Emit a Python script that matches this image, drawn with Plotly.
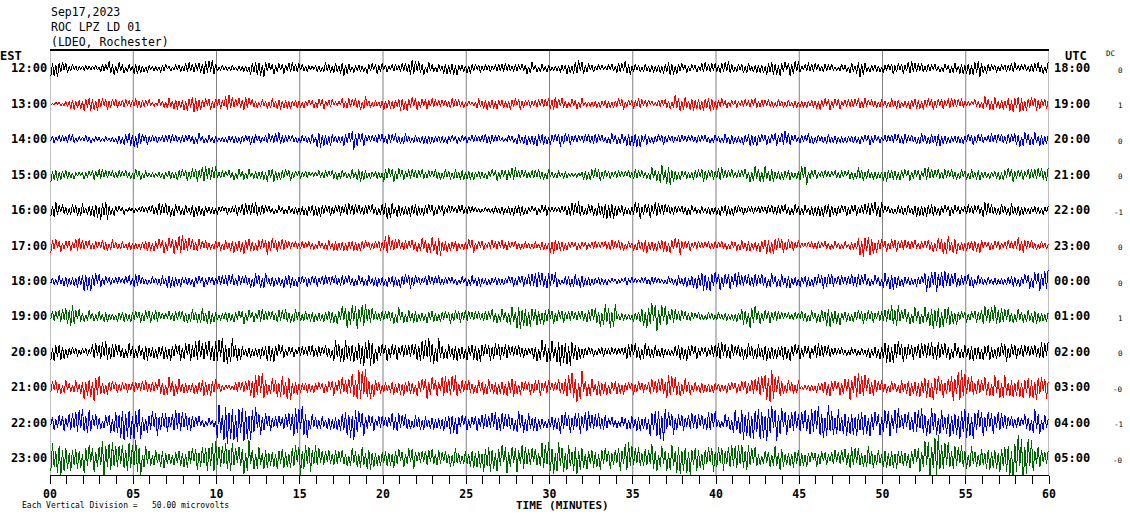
import plotly.graph_objects as go

# ---------------- data ----------------
EST_LABELS = ["12:00", "13:00", "14:00", "15:00", "16:00", "17:00",
              "18:00", "19:00", "20:00", "21:00", "22:00", "23:00"]
UTC_LABELS = ["18:00", "19:00", "20:00", "21:00", "22:00", "23:00",
              "00:00", "01:00", "02:00", "03:00", "04:00", "05:00"]
DC_VALUES = ["0", "1", "0", "0", "-1", "0", "0", "1", "0", "-0", "-1", "-0"]
ROW_COLORS = ["#000000", "#ff0000", "#0000ff", "#006400"]
X_TICK_LABELS = ["00", "05", "10", "15", "20", "25", "30", "35", "40", "45", "50", "55", "60"]

# peak amplitude of each row, one value per half minute (counts; 26 counts = 1 division)
ROW_00 = [6,5,3,2,2,2,3,5,4,3, 4,3,2,3,2,3,4,4,5,6, 2,2,2,3,5,6,4,4,4,4, 3,2,3,4,4,5,3,3,4,4,
          3,3,4,6,5,4,3,4,5,3, 4,3,3,3,4,3,3,4,3,3, 2,3,4,6,4,3,2,3,4,5, 3,3,3,4,5,4,3,3,4,4,
          4,5,3,4,3,4,5,5,5,6, 3,4,3,3,2,3,4,6,3,3, 3,4,4,5,4,3,3,3,4,4, 5,6,4,3,3,4,3,3,4,4]
ROW_01 = [1,2,4,4,5,5,4,4,3,3, 4,3,2,3,4,4,5,6,4,4, 4,6,4,5,3,3,4,4,4,3, 3,3,4,3,2,4,4,5,3,3,
          4,4,5,5,4,4,3,3,4,3, 2,4,4,4,3,4,4,3,3,4, 5,4,3,4,2,3,3,3,4,3, 4,3,2,3,4,6,5,5,5,5,
          4,3,3,3,4,3,3,3,3,3, 3,3,4,4,4,3,4,4,3,3, 3,4,3,4,4,4,4,4,4,4, 2,3,5,5,4,6,6,5,5,4]
ROW_02 = [3,3,4,2,3,2,2,2,4,5, 6,4,3,3,4,3,3,4,3,3, 2,3,3,3,4,3,4,5,3,3, 3,4,6,5,3,5,7,5,3,4,
          4,4,4,3,3,4,3,3,3,3, 3,3,4,3,2,3,4,4,5,4, 4,5,4,3,4,4,3,4,4,5, 6,4,3,4,3,3,3,3,3,3,
          3,4,3,4,5,4,4,5,6,3, 3,4,3,4,3,3,3,3,4,3, 3,4,4,3,4,4,5,4,3,3, 4,4,3,4,4,4,6,5,5,4]
ROW_03 = [5,4,3,2,3,4,4,3,3,3, 4,3,2,3,3,4,4,5,6,6, 3,3,4,4,3,4,5,4,4,3, 3,2,3,3,4,3,4,5,3,3,
          5,5,4,4,4,3,4,4,4,4, 4,3,3,4,4,5,4,3,4,4, 3,3,2,2,4,5,4,3,3,3, 4,3,5,7,7,4,3,4,5,4,
          5,4,3,4,6,6,5,4,4,3, 7,4,3,3,3,3,4,5,4,3, 5,4,4,4,4,5,4,4,4,4, 4,4,3,3,4,5,4,4,5,5]
ROW_04 = [6,4,4,5,4,6,7,4,3,2, 2,3,4,5,5,4,4,5,4,3, 3,3,4,5,6,4,3,3,3,3, 4,4,5,4,4,5,5,4,4,4,
          7,5,4,5,4,5,4,4,3,4, 3,2,2,3,3,4,4,3,3,4, 2,3,5,6,4,5,6,7,4,3, 6,5,6,5,4,3,4,3,3,3,
          4,4,4,3,3,3,4,4,4,4, 4,4,5,5,4,4,4,4,6,6, 3,3,4,4,5,5,4,4,4,3, 4,4,6,4,4,5,4,3,3,3]
ROW_05 = [5,4,4,5,4,3,4,4,3,3, 3,4,4,5,6,7,6,5,4,3, 4,4,5,6,4,5,6,5,4,3, 3,3,3,4,4,4,4,4,3,4,
          7,5,4,4,5,6,7,5,4,3, 5,4,3,4,4,3,3,3,3,3, 6,4,3,3,3,3,3,4,4,3, 4,5,4,5,5,6,4,3,3,3,
          3,3,4,4,4,5,6,6,5,4, 2,3,3,3,3,3,3,8,7,5, 4,5,4,4,3,4,5,7,6,4, 4,5,3,4,3,4,6,4,3,3]
ROW_06 = [3,4,4,5,7,6,4,3,3,4, 5,3,3,4,5,4,3,4,4,3, 4,5,4,4,5,6,4,4,5,4, 4,4,4,4,4,4,4,4,4,4,
          4,4,5,5,3,4,4,3,3,3, 4,4,3,3,3,4,4,5,7,6, 6,3,5,5,4,3,3,2,2,3, 2,3,3,2,3,4,4,6,7,7,
          6,6,6,5,5,5,5,5,5,4, 4,4,5,6,4,4,5,5,4,4, 6,6,4,3,4,7,8,7,6,4, 5,4,3,3,3,4,4,5,7,8]
ROW_07 = [4,6,8,5,4,4,4,3,4,4, 4,5,5,3,4,4,5,5,6,5, 3,4,4,5,4,5,4,5,5,5, 4,4,4,5,5,8,9,9,7,4,
          4,6,5,5,4,5,4,4,5,5, 4,4,4,5,5,7,9,8,6,6, 5,5,4,4,5,6,8,9,3,3, 4,8,10,9,6,5,4,3,3,3,
          3,3,4,6,8,5,5,4,3,3, 4,4,5,7,6,4,4,5,5,4, 6,8,5,6,6,7,9,8,6,4, 4,5,7,8,6,5,5,5,5,4]
ROW_08 = [7,6,4,3,3,6,8,6,5,6, 5,6,5,5,6,6,7,8,8,8, 10,9,7,4,4,5,7,6,4,4, 4,5,4,5,8,9,7,10,10,6,
          6,6,5,6,8,10,9,6,6,6, 6,7,6,7,6,5,5,3,7,8, 8,10,10,6,4,3,4,3,3,6, 6,6,5,4,3,6,6,5,4,5,
          8,6,5,6,6,6,6,5,6,6, 5,5,6,5,3,3,3,3,4,5, 8,8,7,6,6,7,7,6,6,5, 6,6,6,5,7,6,5,5,5,7]
ROW_09 = [5,5,4,5,8,10,5,5,4,4, 4,5,4,6,7,6,4,5,6,6, 3,2,4,5,9,10,6,8,9,6, 4,4,4,5,6,7,10,13,9,5,
          4,5,6,5,6,8,6,8,9,5, 5,5,6,5,6,7,5,5,6,5, 4,6,10,11,7,6,6,5,5,4, 5,4,6,7,9,7,6,4,4,4,
          3,4,4,5,6,9,13,8,5,5, 2,3,4,6,5,7,9,10,7,5, 4,4,5,6,7,8,9,7,10,12, 8,6,7,8,9,7,8,8,9,8]
ROW_10 = [5,6,7,10,9,6,5,8,12,13, 12,7,9,8,7,9,7,5,3,3, 13,15,14,13,12,8,6,5,7,11, 12,6,5,5,6,9,12,9,6,5,
          5,7,6,5,6,5,5,6,8,6, 5,6,6,8,7,6,8,7,6,4, 5,8,7,8,8,7,6,4,4,5, 6,6,10,13,8,7,6,7,6,8,
          4,6,9,12,12,12,13,12,9,8, 9,10,12,12,10,9,10,9,9,8, 10,10,7,8,10,10,10,9,10,12, 11,10,9,8,7,5,4,6,9,6]
ROW_11 = [11,12,9,8,10,9,15,11,10,11, 13,8,6,7,5,6,7,8,9,12, 10,11,8,12,9,8,7,8,7,10, 11,10,7,6,6,6,7,8,8,6,
          6,7,6,8,5,7,6,5,7,5, 7,8,10,9,10,9,10,8,7,11, 12,11,10,11,8,7,8,7,9,11, 8,7,10,8,10,11,12,9,8,9,
          9,9,11,10,8,5,7,9,6,7, 6,5,6,5,6,7,8,7,8,6, 7,8,6,7,9,14,16,12,9,9, 8,7,8,9,10,14,18,16,9,6]

ROWS = [ROW_00, ROW_01, ROW_02, ROW_03, ROW_04, ROW_05,
        ROW_06, ROW_07, ROW_08, ROW_09, ROW_10, ROW_11]
COUNTS_PER_DIVISION = 26.0

# ---------------- styling ----------------
SWINGS_PER_STEP = 5                      # drawn swings inside one half minute
SWING_SHAPE = [1.0, 0.65, 0.9, 0.4, 1.05, 0.75, 0.55, 0.95, 0.3, 0.8, 1.1, 0.5, 0.7, 0.9, 0.35,
               0.85, 1.0, 0.6, 0.45, 0.95, 0.75, 1.05, 0.5, 0.8, 0.65, 0.9, 0.4, 1.0, 0.7, 0.55, 0.85]
MONO = "DejaVu Sans Mono"

W, H = 1130, 519
L, R, T, B = 50, 81, 50, 44
PW, PH = W - L - R, H - T - B


def px_x(px):   # page pixel -> paper x
    return (px - L) / PW


def px_y(py):   # page pixel -> paper y
    return (H - B - py) / PH


fig = go.Figure()
n_rows = len(ROWS)
for i, amps in enumerate(ROWS):
    xs, ys = [], []
    n = 0
    step = 0.5
    for k, a in enumerate(amps):
        for j in range(SWINGS_PER_STEP):
            xs.append(k * step + (j + 0.5) * step / SWINGS_PER_STEP)
            sgn = 1 if n % 2 == 0 else -1
            ys.append(i + sgn * a * SWING_SHAPE[(n + 7 * i) % len(SWING_SHAPE)] / COUNTS_PER_DIVISION)
            n += 1
    fig.add_trace(go.Scatter(x=xs, y=ys, mode="lines",
                             line=dict(color=ROW_COLORS[i % 4], width=1),
                             hoverinfo="skip", showlegend=False))

# y range in row units: top edge of frame to bottom axis line
top_y = -(68.3 - 50) / 35.45
bot_y = (475 - 68.3) / 35.45

shapes = []
for m in range(0, 61, 5):
    shapes.append(dict(type="line", xref="x", yref="paper", x0=m, x1=m, y0=0, y1=1,
                       line=dict(color="#808080", width=1), layer="below"))
shapes.append(dict(type="line", xref="paper", yref="paper", x0=0, x1=1, y0=1, y1=1,
                   line=dict(color="#000000", width=2)))

ann = []
def txt(x, y, s, size, anchor="left", bold=False):
    ann.append(dict(x=x, y=y, xref="paper", yref="paper", text=("<b>%s</b>" % s) if bold else s,
                    showarrow=False, xanchor=anchor, yanchor="middle",
                    font=dict(family=MONO, size=size, color="#000000")))

txt(px_x(49), px_y(12), "Sep17,2023", 11.5)
txt(px_x(49), px_y(27), "ROC LPZ LD 01", 11.5)
txt(px_x(49), px_y(42), "(LDEO, Rochester)", 11.5)
txt(px_x(11), px_y(56), "EST", 12, anchor="center", bold=True)
txt(px_x(1076), px_y(56), "UTC", 12, anchor="center", bold=True)
txt(px_x(1110), px_y(53), "DC", 7.5, anchor="center")
for i in range(n_rows):
    ann.append(dict(x=0, y=i, xref="paper", yref="y", text="<b>%s</b>" % EST_LABELS[i],
                    showarrow=False, xanchor="right", yanchor="middle", xshift=-1,
                    font=dict(family=MONO, size=12, color="#000000")))
    ann.append(dict(x=1, y=i, xref="paper", yref="y", text="<b>%s</b>" % UTC_LABELS[i],
                    showarrow=False, xanchor="left", yanchor="middle", xshift=3,
                    font=dict(family=MONO, size=12, color="#000000")))
    ann.append(dict(x=px_x(1125), y=i, xref="paper", yref="y", text=DC_VALUES[i],
                    showarrow=False, xanchor="right", yanchor="middle", yshift=-2,
                    font=dict(family=MONO, size=7.5, color="#000000")))
txt(px_x(562), px_y(505), "TIME (MINUTES)", 11, anchor="center", bold=True)
txt(px_x(20), px_y(505), "Each Vertical Division =   50.00 microvolts", 8)

fig.update_layout(
    width=W, height=H, autosize=False,
    margin=dict(l=L, r=R, t=T, b=B, pad=0),
    paper_bgcolor="white", plot_bgcolor="white",
    shapes=shapes, annotations=ann,
    xaxis=dict(range=[0, 60], showgrid=False, zeroline=False,
               showline=True, linecolor="#000000", linewidth=1,
               tickmode="array", tickvals=list(range(0, 61, 5)), ticktext=X_TICK_LABELS,
               ticks="outside", ticklen=8, tickcolor="#000000", tickwidth=1,
               tickfont=dict(family=MONO, size=11.5, color="#000000", weight="bold"),
               minor=dict(dtick=1, ticks="outside", ticklen=8, tickcolor="#000000",
                          tickwidth=1, showgrid=False)),
    yaxis=dict(range=[bot_y, top_y], showgrid=False, zeroline=False,
               showticklabels=False, showline=False, ticks=""),
)

# the page body has a default 8px margin: remove it so the figure sits at the page corner;
# draw the traces without anti-aliasing, like the pixel-drawn original
PAGE_FIX = ("document.body.style.margin='0';"
            "document.querySelectorAll('.scatterlayer .js-line').forEach("
            "function(p){p.style.shapeRendering='crispEdges';});")
fig.write_html("out.html", post_script=PAGE_FIX, config={"displayModeBar": False})
